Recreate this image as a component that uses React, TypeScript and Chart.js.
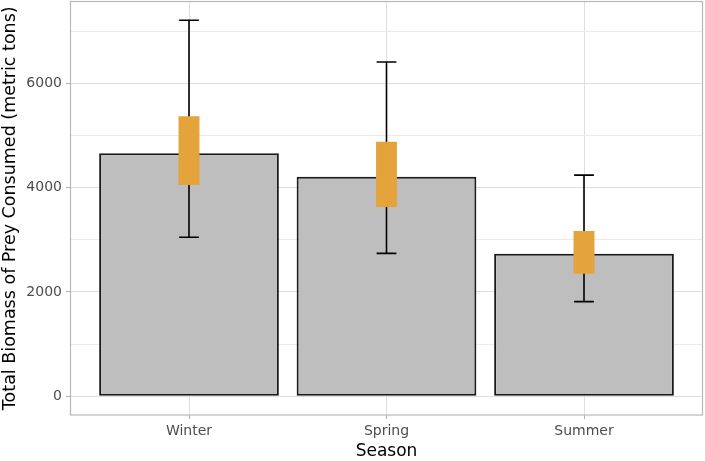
import React, { useEffect, useRef } from 'react';
import { Chart, registerables } from 'chart.js';

Chart.register(...registerables);

const seasons = ['Winter', 'Spring', 'Summer'];
const biomass = [4660, 4210, 2730];
const ciLow = [3050, 2740, 1815];
const ciHigh = [7210, 6410, 4240];
const boxLow = [4050, 3630, 2350];
const boxHigh = [5370, 4880, 3170];
const yMajorTicks = [0, 2000, 4000, 6000];
const yMinorTicks = [1000, 3000, 5000, 7000];

const xTitle = 'Season';
const yTitle = 'Total Biomass of Prey Consumed (metric tons)';

const FONT = "'DejaVu Sans', 'Liberation Sans', sans-serif";

export default function App() {
  const canvasRef = useRef<HTMLCanvasElement | null>(null);

  useEffect(() => {
    const canvas = canvasRef.current;
    if (!canvas) return;

    const positions = seasons.map((_, i) => i + 1);
    const dataMax = Math.max(...ciHigh, ...biomass, ...boxHigh);
    const dataMin = Math.min(0, ...ciLow);
    const pad = (dataMax - dataMin) * 0.05;

    const capHalf = 0.05;
    const errPoints: { x: number; y: number | null }[] = [];
    positions.forEach((x, i) => {
      errPoints.push({ x: x - capHalf, y: ciHigh[i] }, { x: x + capHalf, y: ciHigh[i] }, { x: x + capHalf, y: null });
      errPoints.push({ x, y: ciHigh[i] }, { x, y: ciLow[i] }, { x, y: null });
      errPoints.push({ x: x - capHalf, y: ciLow[i] }, { x: x + capHalf, y: ciLow[i] }, { x: x + capHalf, y: null });
    });

    const panelBorder = {
      id: 'panelBorder',
      afterDraw(chart: any) {
        const { ctx, chartArea } = chart;
        ctx.save();
        ctx.strokeStyle = '#b8b8b8';
        ctx.lineWidth = 1.2;
        ctx.strokeRect(chartArea.left, chartArea.top, chartArea.right - chartArea.left, chartArea.bottom - chartArea.top);
        ctx.restore();
      },
    };

    const allY = [...yMajorTicks, ...yMinorTicks].sort((a, b) => a - b);

    const chart = new Chart(canvas, {
      type: 'bar',
      data: {
        datasets: [
          {
            type: 'bar',
            label: 'interval',
            data: positions.map((x, i) => ({ x, y: [boxLow[i], boxHigh[i]] })) as any,
            backgroundColor: '#E4A43B',
            borderWidth: 0,
            grouped: false,
            categoryPercentage: 1,
            barPercentage: 0.106,
            order: 1,
          } as any,
          {
            type: 'line',
            label: 'error',
            data: errPoints as any,
            borderColor: '#000000',
            borderWidth: 1.6,
            pointRadius: 0,
            spanGaps: false,
            fill: false,
            tension: 0,
            order: 2,
          } as any,
          {
            type: 'bar',
            label: 'biomass',
            data: positions.map((x, i) => ({ x, y: biomass[i] })) as any,
            backgroundColor: '#BEBEBE',
            borderColor: '#1a1a1a',
            borderWidth: 2,
            borderSkipped: false,
            grouped: false,
            categoryPercentage: 1,
            barPercentage: 0.91,
            order: 3,
          } as any,
        ],
      },
      options: {
        responsive: false,
        animation: false,
        devicePixelRatio: 1,
        layout: { padding: { top: 1.5, right: 2.5, left: 0, bottom: 0 } },
        plugins: { legend: { display: false }, tooltip: { enabled: false } },
        scales: {
          x: {
            type: 'linear',
            offset: false,
            min: 0.4,
            max: seasons.length + 0.6,
            afterBuildTicks: (scale: any) => {
              scale.ticks = positions.map((v) => ({ value: v }));
            },
            afterFit: (scale: any) => {
              scale.height = 46;
              scale.paddingLeft = 0;
              scale.paddingRight = 0;
            },
            border: { display: false },
            grid: {
              offset: false,
              color: '#dedede',
              lineWidth: 1,
              tickColor: '#b3b3b3',
              tickLength: 4,
            },
            ticks: {
              autoSkip: false,
              maxRotation: 0,
              padding: 4,
              color: '#4d4d4d',
              font: { family: FONT, size: 14 },
              callback: (v: any) => seasons[Math.round(Number(v)) - 1] ?? '',
            },
            title: {
              display: true,
              text: xTitle,
              color: '#000000',
              font: { family: FONT, size: 17, lineHeight: 1 },
              padding: { top: 0, bottom: 0.5 },
            },
          },
          y: {
            type: 'linear',
            min: dataMin - pad,
            max: dataMax + pad,
            afterBuildTicks: (scale: any) => {
              scale.ticks = allY.map((v) => ({ value: v }));
            },
            afterFit: (scale: any) => {
              scale.width = 70.5;
              scale.paddingTop = 0;
              scale.paddingBottom = 0;
            },
            border: { display: false },
            grid: {
              color: (c: any) => (yMajorTicks.includes(c.tick?.value) ? '#dedede' : '#ebebeb'),
              lineWidth: 1,
              tickColor: (c: any) => (yMajorTicks.includes(c.tick?.value) ? '#b3b3b3' : 'rgba(0,0,0,0)'),
              tickLength: 4.5,
            },
            ticks: {
              autoSkip: false,
              padding: 4,
              color: '#4d4d4d',
              font: { family: FONT, size: 14 },
              callback: (v: any) => (yMajorTicks.includes(Number(v)) ? String(v) : ''),
            },
            title: {
              display: true,
              text: yTitle,
              color: '#000000',
              font: { family: FONT, size: 17.5, lineHeight: 1.2 },
              padding: { top: 0, bottom: 0 },
            },
          },
        },
      } as any,
      plugins: [panelBorder],
    });

    return () => chart.destroy();
  }, []);

  return (
    <div style={{ position: 'absolute', left: 0, top: 0, width: 705, height: 461, background: '#ffffff' }}>
      <canvas ref={canvasRef} width={705} height={461} style={{ display: 'block' }} />
    </div>
  );
}
